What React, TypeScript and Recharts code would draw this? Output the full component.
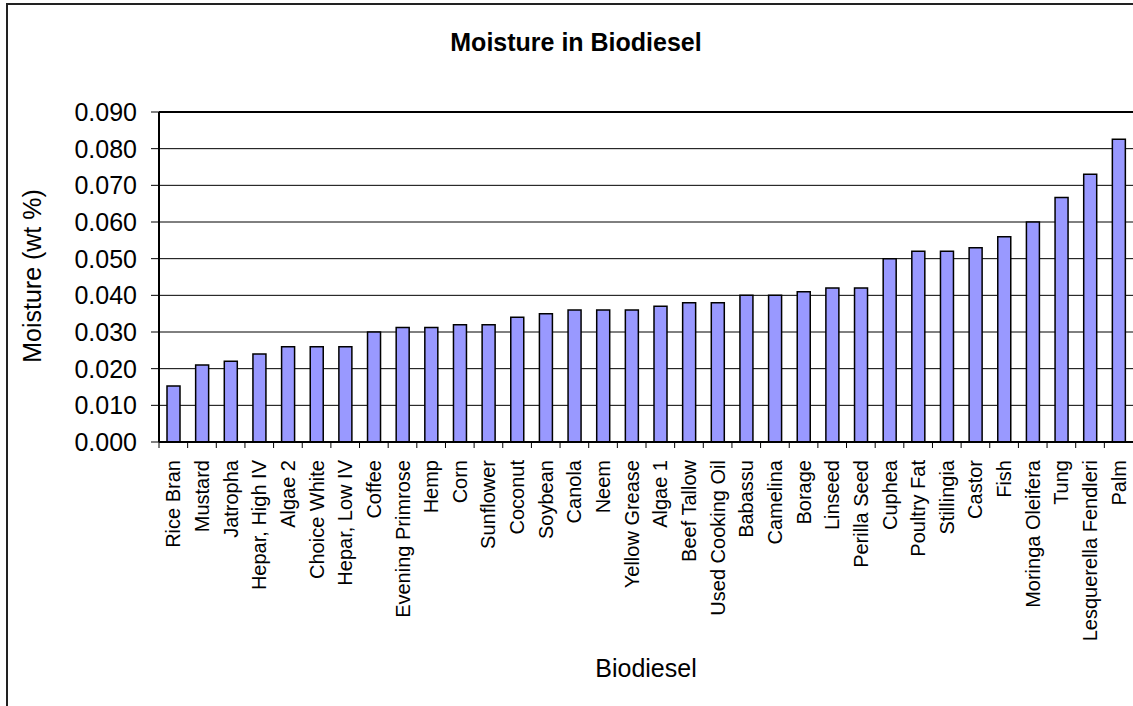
import { BarChart, Bar, XAxis, YAxis, CartesianGrid, ReferenceLine } from "recharts";

const categories = [
  "Rice Bran", "Mustard", "Jatropha", "Hepar, High IV", "Algae 2", "Choice White",
  "Hepar, Low IV", "Coffee", "Evening Primrose", "Hemp", "Corn", "Sunflower",
  "Coconut", "Soybean", "Canola", "Neem", "Yellow Grease", "Algae 1",
  "Beef Tallow", "Used Cooking Oil", "Babassu", "Camelina", "Borage", "Linseed",
  "Perilla Seed", "Cuphea", "Poultry Fat", "Stillingia", "Castor", "Fish",
  "Moringa Oleifera", "Tung", "Lesquerella Fendleri", "Palm",
];

const moisture = [
  0.0153, 0.021, 0.022, 0.024, 0.026, 0.026,
  0.026, 0.030, 0.0312, 0.0312, 0.032, 0.032,
  0.034, 0.035, 0.036, 0.036, 0.036, 0.037,
  0.038, 0.038, 0.040, 0.040, 0.041, 0.042,
  0.042, 0.050, 0.052, 0.052, 0.053, 0.056,
  0.060, 0.0667, 0.073, 0.0826,
];

const yTicks = [0, 0.01, 0.02, 0.03, 0.04, 0.05, 0.06, 0.07, 0.08, 0.09];

const data = categories.map((name, i) => ({ name, moisture: moisture[i] }));

const FONT = '"Liberation Sans", Arial, sans-serif';
const X_TICK = 6;
const X_GAP = 12;

// excel style: tick marks sit between categories, labels run bottom-to-top
function CategoryTick(props: any) {
  const { x, y, payload } = props;
  const half = payload && payload.offset ? payload.offset : 14.3;
  const axisY = y - X_TICK - X_GAP;
  return (
    <g>
      <line x1={x - half} x2={x - half} y1={axisY} y2={axisY + X_TICK} stroke="#000" strokeWidth={1} />
      <text
        x={x}
        y={y}
        dy="0.35em"
        textAnchor="end"
        transform={`rotate(-90 ${x} ${y})`}
        fontSize={20}
        fill="#000"
        fontFamily={FONT}
      >
        {payload.value}
      </text>
    </g>
  );
}

export default function App() {
  return (
    <div
      style={{
        position: "absolute",
        left: 0,
        top: 0,
        width: 1133,
        height: 706,
        overflow: "hidden",
        background: "#fff",
        fontFamily: FONT,
      }}
    >
      <div
        style={{
          position: "absolute",
          left: 6,
          top: 3,
          width: 1160,
          height: 760,
          border: "2px solid #222",
          boxSizing: "border-box",
        }}
      />
      <div style={{ position: "absolute", left: 0, top: 0 }}>
        <BarChart
          width={1133}
          height={706}
          data={data}
          margin={{ top: 112, right: 0, bottom: 0, left: 0 }}
        >
          <CartesianGrid vertical={false} stroke="#000" strokeWidth={1} />
          <XAxis
            dataKey="name"
            interval={0}
            height={264}
            tickLine={false}
            tickSize={X_TICK}
            tickMargin={X_GAP}
            axisLine={{ stroke: "#000", strokeWidth: 2 }}
            tick={<CategoryTick />}
          />
          <YAxis
            width={159}
            domain={[0, 0.09]}
            ticks={yTicks}
            allowDataOverflow
            tickFormatter={(v: number) => v.toFixed(3)}
            tick={{ fill: "#000", fontSize: 25 }}
            tickSize={8}
            tickMargin={14}
            tickLine={{ stroke: "#000" }}
            axisLine={{ stroke: "#000", strokeWidth: 2 }}
          />
          <ReferenceLine y={0.09} stroke="#000" strokeWidth={2} />
          <Bar
            dataKey="moisture"
            fill="#9999FF"
            stroke="#000"
            strokeWidth={1.5}
            barSize={13}
            isAnimationActive={false}
          />
        </BarChart>
      </div>
      <svg
        width={1133}
        height={706}
        style={{ position: "absolute", left: 0, top: 0, pointerEvents: "none" }}
      >
        <text x={576} y={51} textAnchor="middle" fontSize={25} fontWeight="bold" fill="#000" fontFamily={FONT}>
          Moisture in Biodiesel
        </text>
        <text
          x={41}
          y={276}
          textAnchor="middle"
          transform="rotate(-90 41 276)"
          fontSize={25}
          fill="#000"
          fontFamily={FONT}
        >
          Moisture (wt %)
        </text>
        <text x={646} y={677} textAnchor="middle" fontSize={25} fill="#000" fontFamily={FONT}>
          Biodiesel
        </text>
      </svg>
    </div>
  );
}
